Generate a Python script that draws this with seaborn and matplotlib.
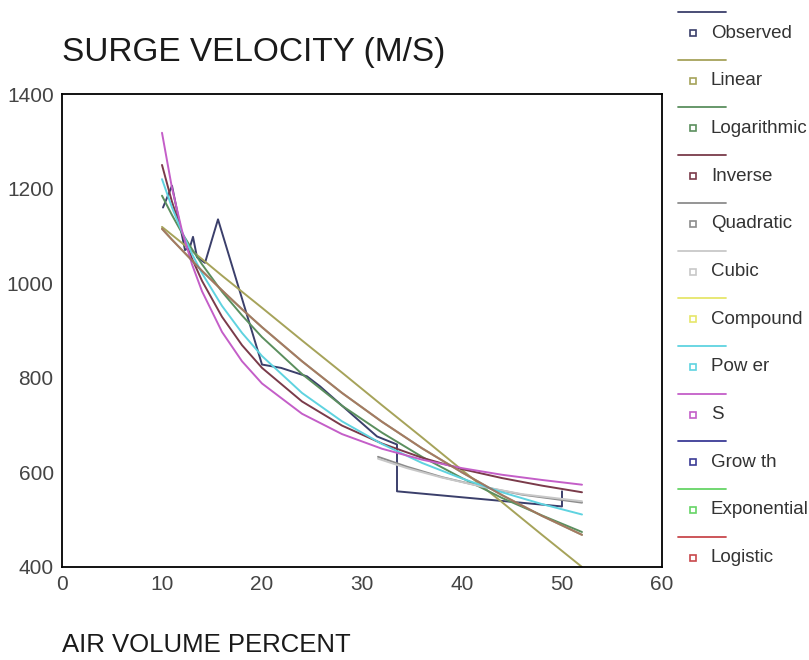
import matplotlib
matplotlib.use("Agg")
import pandas as pd
import seaborn as sns
from matplotlib import pyplot as plt

# Observed data (air volume %, surge velocity m/s), in plotting order
obs_x = [10.1, 11.0, 12.3, 12.8, 13.1, 13.5, 14.3, 15.6, 20.0, 21.9, 24.5, 25.8,
         31.5, 33.5, 33.5, 50.0, 50.0]
obs_y = [1160, 1206, 1070, 1077, 1098, 1055, 1043, 1135, 828, 821, 803, 782,
         676, 659, 560, 528, 560]

# Fitted curves
fit_x = [10, 11, 12, 13, 14, 16, 18, 20, 24, 28, 32, 36, 40, 44, 48, 52]
linear = [1119, 1102, 1085, 1068, 1051, 1016, 982, 948, 879, 811, 742, 674, 605, 537, 468, 400]
logarithmic = [1185, 1144, 1106, 1072, 1040, 982, 932, 886, 808, 741, 684, 633, 588, 546, 509, 474]
inverse = [1250, 1172, 1107, 1052, 1005, 929, 869, 821, 750, 699, 661, 631, 607, 588, 572, 558]
power = [1220, 1160, 1108, 1062, 1021, 952, 895, 846, 768, 708, 660, 620, 587, 558, 533, 511]
s_curve = [1318, 1201, 1111, 1040, 983, 897, 835, 788, 724, 681, 650, 627, 609, 595, 584, 574]
# compound, growth, exponential and logistic give the same curve
exp_curve = [1115, 1092, 1070, 1048, 1026, 985, 945, 907, 835, 768, 707, 651, 600, 552, 508, 468]

poly_x = [31.6, 34.5, 38, 42, 46, 52]
quadratic = [633, 612, 590, 570, 553, 536]
cubic = [629, 609, 589, 570, 554, 539]

labels = ["Observed", "Linear", "Logarithmic", "Inverse", "Quadratic", "Cubic",
          "Compound", "Pow er", "S", "Grow th", "Exponential", "Logistic"]
colors = ["#3b3f6b", "#a6a35a", "#5b8f5e", "#7a3b4a", "#8c8c8c", "#c8c8c8",
          "#e6e66a", "#5fd3e0", "#c45ec8", "#3c3c96", "#66d466", "#c8484c"]
# overlapping curves are drawn see-through so they blend like the original
alphas = [1, 1, 1, 1, 1, 1, 0.7, 1, 1, 0.5, 0.5, 0.55]

series = [
    (obs_x, obs_y), (fit_x, linear), (fit_x, logarithmic), (fit_x, inverse),
    (poly_x, quadratic), (poly_x, cubic), (fit_x, exp_curve), (fit_x, power),
    (fit_x, s_curve), (fit_x, exp_curve), (fit_x, exp_curve), (fit_x, exp_curve),
]

sns.set_theme(style="white")
plt.rcParams["font.family"] = ["Liberation Sans", "DejaVu Sans"]

fig = plt.figure(figsize=(8.09, 6.6), dpi=100)
ax = fig.add_axes([62 / 809, 1 - 567 / 660, 600 / 809, 473 / 660])

for (xv, yv), col, a in zip(series, colors, alphas):
    df = pd.DataFrame({"x": xv, "y": yv})
    sns.lineplot(data=df, x="x", y="y", ax=ax, color=col, lw=1.4, alpha=a,
                 sort=False, estimator=None)

ax.set_xlim(0, 60)
ax.set_ylim(400, 1400)
ax.set_xticks(range(0, 61, 10))
ax.set_yticks(range(400, 1401, 200))
ax.set_xlabel("")
ax.set_ylabel("")
for sp in ax.spines.values():
    sp.set_color("black")
    sp.set_linewidth(1.3)
ax.tick_params(axis="both", direction="out", length=3, width=3, color="black",
               labelsize=15, labelcolor="#444444", pad=3)

fig.text(62 / 809, 1 - 52 / 660, "SURGE VELOCITY (M/S)", fontsize=24,
         color="#1a1a1a", va="center", ha="left")
fig.text(62 / 809, 1 - 645 / 660, "AIR VOLUME PERCENT", fontsize=18.5,
         color="#1a1a1a", va="center", ha="left")

# legend: line on top, small square plus label below
lax = fig.add_axes([670 / 809, 0, 139 / 809, 1])
lax.set_xlim(670, 809)
lax.set_ylim(660, 0)
lax.axis("off")
for i, (lab, col) in enumerate(zip(labels, colors)):
    ly = 12 + 47.7 * i
    lax.plot([678, 726], [ly, ly], color=col, lw=1.3)
    lax.plot([693], [ly + 21], marker="s", ms=4.5, mfc="white", mec=col, mew=1.2)
    lax.text(711, ly + 21, lab, fontsize=13.5, color="#333333", va="center", ha="left")

plt.savefig("out.png", dpi=100)
